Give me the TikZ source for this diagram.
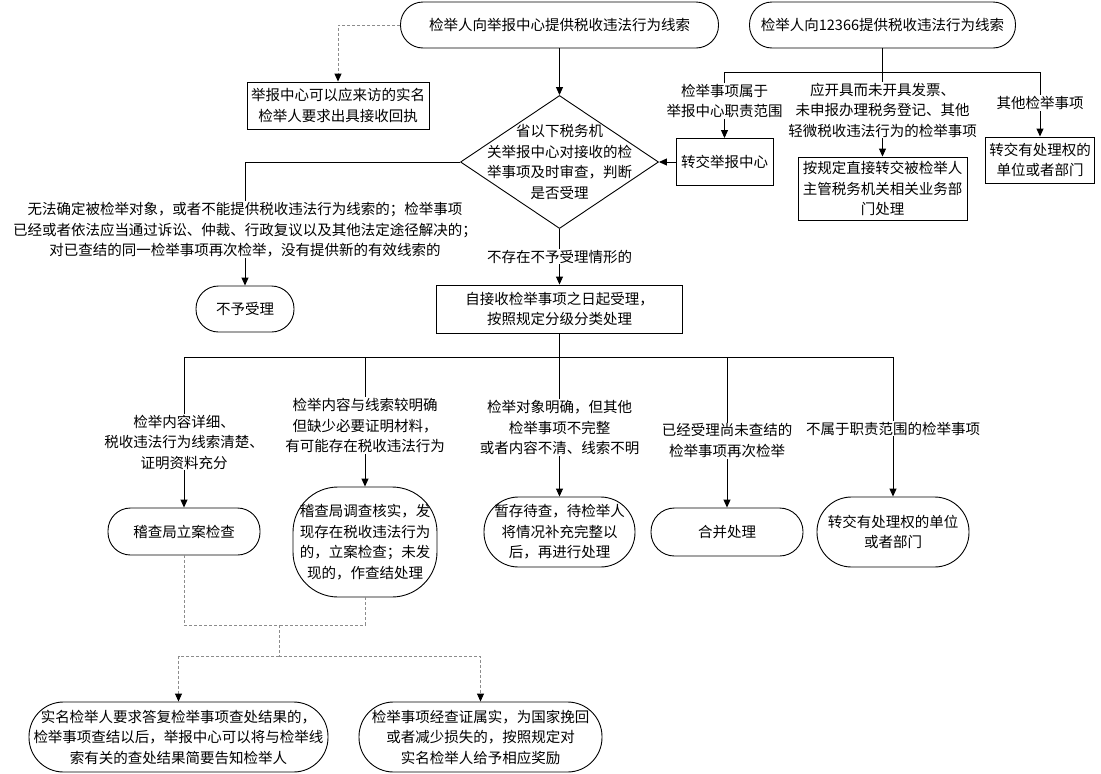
\documentclass[tikz,border=0pt]{standalone}
\usepackage{fontspec}
\setmainfont{Noto Sans CJK SC}
\usepackage{tikz}
\usetikzlibrary{arrows.meta, shapes.geometric, positioning}

\begin{document}
\begin{tikzpicture}[x=1pt, y=-1pt,
   font=\fontsize{14.5}{20.5}\selectfont, line width=0.9pt,
   every node/.style={align=center, inner sep=2pt},
   proc/.style={draw, rectangle, minimum height=46pt},
   pill/.style={draw, rounded corners=#1, minimum height=46pt},
   pill/.default=22.5pt,
   decision/.style={draw, diamond, minimum width=198pt, minimum height=133pt, inner sep=0pt},
   lbl/.style={fill=white, inner sep=1pt},
   arr/.style={-{Triangle[length=8pt, width=7pt]}},
   hint/.style={draw=black!45, dash pattern=on 3pt off 2pt},
   hintarr/.style={hint, -{Triangle[length=8pt, width=7pt, color=black]}}]
   \useasboundingbox (0,0) rectangle (1101,774);

   % top row
   \node[pill, minimum width=318pt] (report) at (559.5,25) {检举人向举报中心提供税收违法行为线索};
   \node[pill, minimum width=266pt] (hotline) at (882.5,25) {检举人向12366提供税收违法行为线索};
   \node[proc, minimum width=182pt, minimum height=47pt] (receipt) at (338,105.5) {举报中心可以应来访的实名\\检举人要求出具接收回执};
   \node[decision, label={center:{省以下税务机\\关举报中心对接收的检\\举事项及时审查，判断\\是否受理}}] (judge) at (559.5,162) {};
   \node[proc, minimum width=97pt, minimum height=47pt] (tocenter) at (724.5,162) {转交举报中心};
   \node[proc, minimum width=169pt, minimum height=63pt] (direct) at (882.5,188.5) {按规定直接转交被检举人\\主管税务机关相关业务部\\门处理};
   \node[proc, minimum width=109pt] (toother) at (1040,160) {转交有处理权的\\单位或者部门};

   % acceptance
   \node[pill, minimum width=98pt] (reject) at (245,309) {不予受理};
   \node[proc, minimum width=246pt, minimum height=48pt] (accept) at (559.5,309) {自接收检举事项之日起受理，\\按照规定分级分类处理};

   % handling
   \node[pill, minimum width=152pt, minimum height=47pt] (case) at (184,531.5) {稽查局立案检查};
   \node[pill=45pt, minimum width=144pt, minimum height=110pt] (verify) at (365,542) {稽查局调查核实，发\\现存在税收违法行为\\的，立案检查；未发\\现的，作查结处理};
   \node[pill=34.5pt, minimum width=151pt, minimum height=70pt] (hold) at (559.5,532) {暂存待查，待检举人\\将情况补充完整以\\后，再进行处理};
   \node[pill=23.5pt, minimum width=152pt, minimum height=48pt] (merge) at (727,532) {合并处理};
   \node[pill=34.5pt, minimum width=152pt, minimum height=70pt] (refer) at (893,532) {转交有处理权的单位\\或者部门};

   % bottom row
   \node[pill=34.5pt, minimum width=299pt, minimum height=70pt] (notify) at (178.5,737) {实名检举人要求答复检举事项查处结果的，\\检举事项查结以后，举报中心可以将与检举线\\索有关的查处结果简要告知检举人};
   \node[pill=34.5pt, minimum width=243pt, minimum height=70pt] (reward) at (480.5,737) {检举事项经查证属实，为国家挽回\\或者减少损失的，按照规定对\\实名检举人给予相应奖励};

   \coordinate (split1) at (882.5,72);
   \coordinate (split2) at (559.5,357);
   \coordinate (join) at (279,625);
   \coordinate (fork) at (279,656);

   \draw[arr] (report) -- (judge);
   \draw[hintarr] (report.west) -| (receipt.north);
   \draw (hotline) -- (split1);
   \draw[arr] (split1) -| node[lbl, pos=0.72]{检举事项属于\\举报中心职责范围} (tocenter.north);
   \draw[arr] (split1) -- node[lbl, pos=0.45]{应开具而未开具发票、\\未申报办理税务登记、其他\\轻微税收违法行为的检举事项} (direct);
   \draw[arr] (split1) -| node[lbl, pos=0.74]{其他检举事项} (toother.north);
   \draw[arr] (tocenter) -- (judge);
   \draw[arr] (judge.west) -| node[lbl, pos=0.774]{无法确定被检举对象，或者不能提供税收违法行为线索的；检举事项\\已经或者依法应当通过诉讼、仲裁、行政复议以及其他法定途径解决的；\\对已查结的同一检举事项再次检举，没有提供新的有效线索的} (reject.north);
   \draw[arr] (judge) -- node[lbl]{不存在不予受理情形的} (accept);

   \draw (accept) -- (split2);
   \draw[arr] (split2) -| node[lbl, pos=0.783]{检举内容详细、\\税收违法行为线索清楚、\\证明资料充分} (case.north);
   \draw[arr] (split2) -| node[lbl, pos=0.765]{检举内容与线索较明确\\但缺少必要证明材料，\\有可能存在税收违法行为} (verify.north);
   \draw[arr] (split2) -- node[lbl, pos=0.507]{检举对象明确，但其他\\检举事项不完整\\或者内容不清、线索不明} (hold);
   \draw[arr] (split2) -| node[lbl, pos=0.778]{已经受理尚未查结的\\检举事项再次检举} (merge.north);
   \draw[arr] (split2) -| node[lbl, pos=0.757]{不属于职责范围的检举事项} (refer.north);

   \draw[hint] (case.south) |- (join);
   \draw[hint] (verify.south) |- (join);
   \draw[hint] (join) -- (fork);
   \draw[hintarr] (fork) -| (notify.north);
   \draw[hintarr] (fork) -| (reward.north);

\end{tikzpicture}
\end{document}
